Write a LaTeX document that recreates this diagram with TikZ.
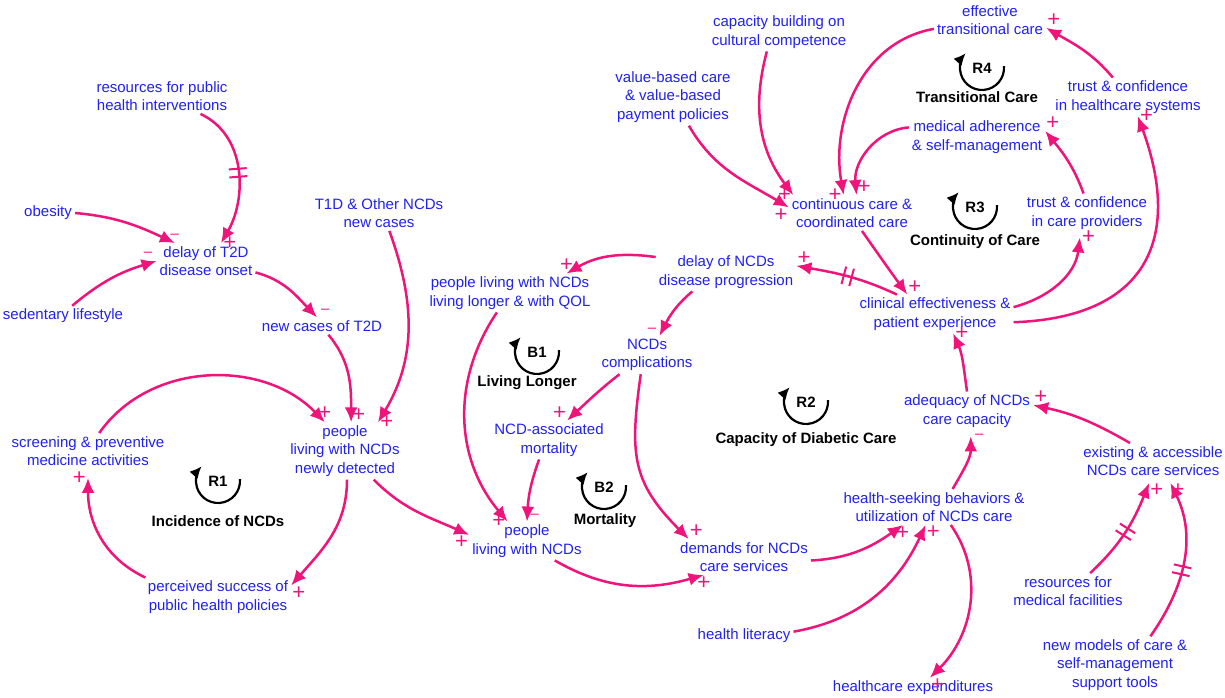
\documentclass[tikz,border=0pt]{standalone}
\usepackage{fontspec}
\setmainfont{Liberation Sans}
\usetikzlibrary{arrows.meta, decorations.markings}
\definecolor{cldblue}{HTML}{2020F0}
\definecolor{cldpink}{HTML}{F0147A}

\begin{document}
\begin{tikzpicture}[x=1pt, y=1pt,
    var/.style={text=cldblue, align=center, inner sep=3pt, font=\fontsize{15}{18.5}\selectfont},
    link/.style={cldpink, line width=2.5pt, -{Latex[length=15pt, width=13pt]}},
    polplus/.style={text=cldpink, inner sep=0pt, font=\fontsize{22}{22}\selectfont},
    polminus/.style={text=cldpink, inner sep=1pt, font=\fontsize{15}{15}\selectfont},
    delaymark/.style={postaction={decorate, decoration={markings,
        mark=at position #1 with {\draw[-, cldpink, line width=2pt] (-4,-9) -- (-4,9) (4,-9) -- (4,9);}}}},
    delaymark/.default=0.5,
    loopsym/.style={draw=black, line width=2.2pt, -{Latex[length=12pt, width=11pt]}},
    looptag/.style={font=\fontsize{15}{18}\selectfont\bfseries, inner sep=1pt},
    looptitle/.style={font=\fontsize{15}{18}\selectfont\bfseries, inner sep=2pt}]
  \useasboundingbox (0,0) rectangle (1225,698);

  % variables
  \node[var] (respub) at (162,602) {resources for public\\health interventions};
  \node[var] (obesity) at (48,485) {obesity};
  \node[var] (sedentary) at (63,382) {sedentary lifestyle};
  \node[var] (delayT2D) at (206,437) {delay of T2D\\disease onset};
  \node[var] (T1D) at (379,485) {T1D \& Other NCDs\\new cases};
  \node[var] (newT2D) at (322,372) {new cases of T2D};
  \node[var] (plwnd) at (345,247) {people\\living with NCDs\\newly detected};
  \node[var] (screening) at (88,247) {screening \& preventive\\medicine activities};
  \node[var] (perceived) at (218,101) {perceived success of\\public health policies};
  \node[var] (plqol) at (510,405) {people living with NCDs\\living longer \& with QOL};
  \node[var] (delayNCD) at (726,426) {delay of NCDs\\disease progression};
  \node[var] (complications) at (647,343) {NCDs\\complications};
  \node[var] (mortality) at (549,258) {NCD-associated\\mortality};
  \node[var] (plw) at (527,157) {people\\living with NCDs};
  \node[var] (demands) at (744,141) {demands for NCDs\\care services};
  \node[var] (hsb) at (934,191) {health-seeking behaviors \&\\utilization of NCDs care};
  \node[var] (literacy) at (744,62) {health literacy};
  \node[var] (expend) at (913,10) {healthcare expenditures};
  \node[var] (adequacy) at (967,287) {adequacy of NCDs\\care capacity};
  \node[var] (existing) at (1153,237) {existing \& accessible\\NCDs care services};
  \node[var] (resmed) at (1068,107) {resources for\\medical facilities};
  \node[var] (newmodels) at (1115,33) {new models of care \&\\self-management\\support tools};
  \node[var] (clinical) at (935,384) {clinical effectiveness \&\\patient experience};
  \node[var] (continuous) at (852,485) {continuous care \&\\coordinated care};
  \node[var] (valuebased) at (673,601) {value-based care\\\& value-based\\payment policies};
  \node[var] (capacity) at (779,666) {capacity building on\\cultural competence};
  \node[var] (effective) at (990,678) {effective\\transitional care};
  \node[var] (trustsys) at (1128,601) {trust \& confidence\\in healthcare systems};
  \node[var] (medadh) at (977,561) {medical adherence\\\& self-management};
  \node[var] (trustprov) at (1087,485) {trust \& confidence\\in care providers};

  % loops
  \foreach \lp/\x/\y in {R1/218/217, B1/537/346, B2/604/211, R2/806/296, R3/975/491, R4/982/630}{
    \draw[loopsym] (\x,\y) ++(5:22) arc[start angle=5, end angle=-222, radius=22];
    \node[looptag] (tag\lp) at (\x,\y) {\lp};
  }
  \node[looptitle] (titleR1) at (218,177) {Incidence of NCDs};
  \node[looptitle] (titleB1) at (527,315) {Living Longer};
  \node[looptitle] (titleB2) at (605,177) {Mortality};
  \node[looptitle] (titleR2) at (806,258) {Capacity of Diabetic Care};
  \node[looptitle] (titleR3) at (975,456) {Continuity of Care};
  \node[looptitle] (titleR4) at (977,601) {Transitional Care};

  % links
  \draw[link, delaymark] (respub.-25) to[out=-25, in=60] node[polplus, at end, right=1pt] (s1) {+} (delayT2D.50);
  \draw[link] (obesity.east) to[out=-5, in=155] node[polminus, at end, above=2pt] (s2) {\textendash} (delayT2D.150);
  \draw[link] (sedentary.48) to[out=40, in=-163] node[polminus, at end, above left=2pt] (s3) {\textendash} (delayT2D.west);
  \draw[link] (delayT2D.-13) to[out=-15, in=134] node[polminus, at end, above right=2pt] (s4) {\textendash} (newT2D.120);
  \draw[link] (newT2D.-54) to[out=-50, in=90] node[polplus, at end, above right=0pt] (s5) {+} (plwnd.78);
  \draw[link] (T1D.-60) to[out=-70, in=59] node[polplus, at end, right=1pt] (s6) {+} (plwnd.41);
  \draw[link] (screening.58) to[out=55, in=134] node[polplus, at end, above=2pt] (s7) {+} (plwnd.125);
  \draw[link] (plwnd.-86) to[out=-90, in=49] node[polplus, at end, below right=0pt] (s8) {+} (perceived.9);
  \draw[link] (perceived.165) to[out=155, in=-90] node[polplus, at end, left=1pt] (s9) {+} ([yshift=-9pt]screening.south);
  \draw[link] (plwnd.-45) to[out=-45, in=156] node[polplus, at end, below left=0pt] (s10) {+} (plw.174);
  \draw[link] (plqol.-124) to[out=-124, in=130] node[polplus, at end, left=1pt] (s11) {+} (plw.135);
  \draw[link] (mortality.-117) to[out=-110, in=87] node[polminus, at end, above right=1pt] (s12) {\textendash} (plw.north);
  \draw[link] (delayNCD.168) to[out=172, in=30] node[polplus, at end, above=1pt] (s13) {+} (plqol.19);
  \draw[link] (delayNCD.-150) to[out=-140, in=63] node[polminus, at end, above left=1pt] (s14) {\textendash} (complications.57);
  \draw[link] (complications.-145) to[out=-142, in=43] node[polplus, at end, above left=0pt] (s15) {+} (mortality.47);
  \draw[link] (complications.-108) to[out=-98, in=135, looseness=1.2] node[polplus, at end, above right=0pt] (s16) {+} (demands.162);
  \draw[link] (plw.-35) to[out=-30, in=-164] node[polplus, at end, below=1pt] (s17) {+} (demands.-156);
  \draw[link] (demands.-3) to[out=3, in=-145] node[polplus, at end, below=1pt] (s18) {+} (hsb.-150);
  \draw[link] (literacy.5) to[out=10, in=-115] node[polplus, at end, below right=0pt] (s19) {+} (hsb.-115);
  \draw[link] (hsb.-47) to[out=-55, in=45] node[polplus, at end, below right=0pt] (s20) {+} (expend.31);
  \draw[link] (hsb.44) to[out=60, in=-90] node[polminus, at end, right=2pt] (s21) {\textendash} ([yshift=-6pt]adequacy.-79);
  \draw[link] (existing.142) to[out=150, in=-12] node[polplus, at end, above right=0pt] (s22) {+} (adequacy.5);
  \draw[link, delaymark] (resmed.39) to[out=43, in=-112] node[polplus, at end, below right=0pt] (s23) {+} ([yshift=-4pt]existing.-102);
  \draw[link, delaymark=0.45] (newmodels.39) to[out=55, in=-64] node[polplus, at end, below right=0pt] (s24) {+} ([yshift=-4pt]existing.-46);
  \draw[link] (adequacy.north) to[out=98, in=-66] node[polplus, at end, right=1pt] (s25) {+} (clinical.-47);
  \draw[link, delaymark] (clinical.153) to[out=155, in=-10] node[polplus, at end, above right=0pt] (s26) {+} (delayNCD.5);
  \draw[link] (continuous.-61) to[out=-55, in=126] node[polplus, at end, above right=0pt] (s27) {+} (clinical.145);
  \draw[link] (clinical.5) to[out=15, in=-97] node[polplus, at end, right=1pt] (s28) {+} ([yshift=-5pt]trustprov.-110);
  \draw[link] (clinical.-6) to[out=2, in=-70, looseness=1.4] node[polplus, at end, right=1pt] (s29) {+} (trustsys.-63);
  \draw[link] (trustprov.100) to[out=110, in=-51] node[polplus, at end, above right=0pt] (s30) {+} (medadh.5);
  \draw[link] (trustsys.128) to[out=130, in=-30] node[polplus, at end, above right=0pt] (s31) {+} (effective.-8);
  \draw[link] (effective.-171) to[out=190, in=100] node[polplus, at end, left=1pt] (s32) {+} (continuous.115);
  \draw[link] (medadh.172) to[out=185, in=95] node[polplus, at end, above right=0pt] (s33) {+} (continuous.76);
  \draw[link] (valuebased.-61) to[out=-60, in=149] node[polplus, at end, below left=0pt] (s34) {+} (continuous.175);
  \draw[link] (capacity.-122) to[out=-105, in=127] node[polplus, at end, left=1pt] (s35) {+} (continuous.163);
\end{tikzpicture}
\end{document}
